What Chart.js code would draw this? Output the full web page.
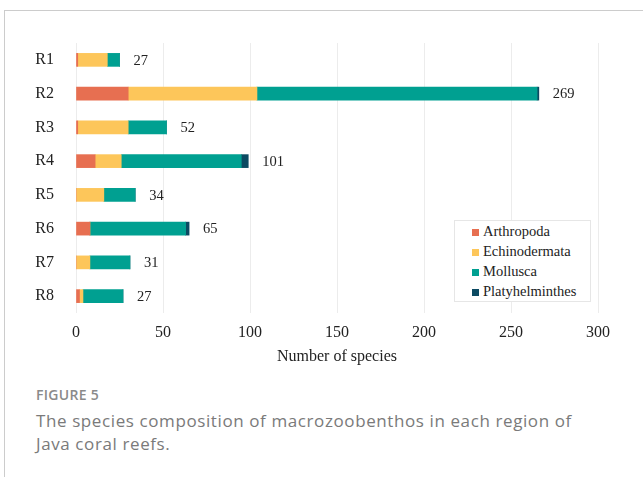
<!DOCTYPE html>
<html>
<head>
<meta charset="utf-8">
<script src="https://cdn.jsdelivr.net/npm/chart.js@4.4.0/dist/chart.umd.min.js"></script>
<style>
  body { margin: 0; background: #fff; }
  #frame { position: absolute; left: 4px; top: 10px; width: 639px; height: 467px;
           border-top: 1px solid #ccc; border-left: 1px solid #ccc; }
  #box { position: absolute; left: 0; top: 0; width: 638px; height: 355px; }
  #legend { position: absolute; left: 449px; top: 209px; width: 135px; padding: 0;
            border: 1px solid #e6e6e6; background: #fff;
            font-family: "Liberation Serif", serif; font-size: 14.5px; color: #222; }
  #legend div { height: 20px; line-height: 20px; padding-left: 17px; }
  #legend span { display: inline-block; width: 7px; height: 7px; margin-right: 4px; }
  #fig { position: absolute; left: 31px; top: 374px; font-family: "Open Sans", sans-serif;
         font-size: 14px; line-height: 19px; font-weight: 600; color: #8a8a8a; letter-spacing: 0.3px; }
  #cap { position: absolute; left: 31px; top: 398px; width: 575px; font-family: "Open Sans", sans-serif;
         font-size: 17px; line-height: 23px; color: #7a7a7a; letter-spacing: 0.6px; }
</style>
</head>
<body>
<div id="frame">
  <div id="box"><canvas id="chart"></canvas></div>
  <div id="legend"></div>
  <div id="fig">FIGURE 5</div>
  <div id="cap">The species composition of macrozoobenthos in each region of Java coral reefs.</div>
</div>
<script>
const regions = ["R1", "R2", "R3", "R4", "R5", "R6", "R7", "R8"];
const arthropoda = [1, 30, 1, 11, 0, 8, 0, 2];
const echinodermata = [17, 74, 29, 15, 16, 0, 8, 2];
const mollusca = [7, 161, 22, 69, 18, 55, 23, 23];
const platyhelminthes = [0, 1, 0, 4, 0, 2, 0, 0];
const totals = [27, 269, 52, 101, 34, 65, 31, 27];
const xTicks = [0, 50, 100, 150, 200, 250, 300];

const names = ["Arthropoda", "Echinodermata", "Mollusca", "Platyhelminthes"];
const colors = ["#E76F51", "#FDC65A", "#00A091", "#0C4A62"];
const series = [arthropoda, echinodermata, mollusca, platyhelminthes];

const serif = "'Liberation Serif', 'Times New Roman', serif";

const legendEl = document.getElementById("legend");
names.forEach((n, i) => {
  const row = document.createElement("div");
  row.innerHTML = '<span style="background:' + colors[i] + '"></span>' + n;
  legendEl.appendChild(row);
});

// total labels placed just after the end of each stacked bar
const totalLabels = {
  id: "totalLabels",
  afterDatasetsDraw(chart) {
    const ctx = chart.ctx;
    const xs = chart.scales.x, ys = chart.scales.y;
    ctx.save();
    ctx.font = "14.5px " + serif;
    ctx.fillStyle = "#222";
    ctx.textBaseline = "middle";
    ctx.textAlign = "left";
    totals.forEach((t, i) => {
      const end = series.reduce((s, d) => s + d[i], 0);
      ctx.fillText(String(t), xs.getPixelForValue(end) + 14, ys.getPixelForValue(i) + 1);
    });
    ctx.restore();
  }
};

const canvas = document.getElementById("chart");
new Chart(canvas.getContext("2d"), {
  type: "bar",
  data: {
    labels: regions,
    datasets: series.map((d, i) => ({
      label: names[i],
      data: d,
      backgroundColor: colors[i],
      borderWidth: 0,
      barThickness: 13
    }))
  },
  options: {
    indexAxis: "y",
    responsive: true,
    maintainAspectRatio: false,
    animation: false,
    layout: { padding: { top: 32, right: 45, left: 0, bottom: 0 } },
    plugins: { legend: { display: false }, tooltip: { enabled: false } },
    scales: {
      x: {
        stacked: true,
        min: 0, max: 300,
        afterBuildTicks: s => { s.ticks = xTicks.map(v => ({ value: v })); },
        afterFit: s => { s.height = 53; },
        grid: { color: "#ececec", drawTicks: false },
        border: { display: false },
        ticks: { color: "#222", font: { family: serif, size: 16 }, padding: 10 },
        title: { display: true, text: "Number of species", color: "#222",
                 font: { family: serif, size: 16 }, padding: { top: 2, bottom: 0 } }
      },
      y: {
        stacked: true,
        afterFit: s => { s.width = 71; },
        grid: { display: false },
        border: { display: false },
        ticks: { color: "#222", font: { family: serif, size: 16 }, padding: 14 }
      }
    }
  },
  plugins: [totalLabels]
});
</script>
</body>
</html>
